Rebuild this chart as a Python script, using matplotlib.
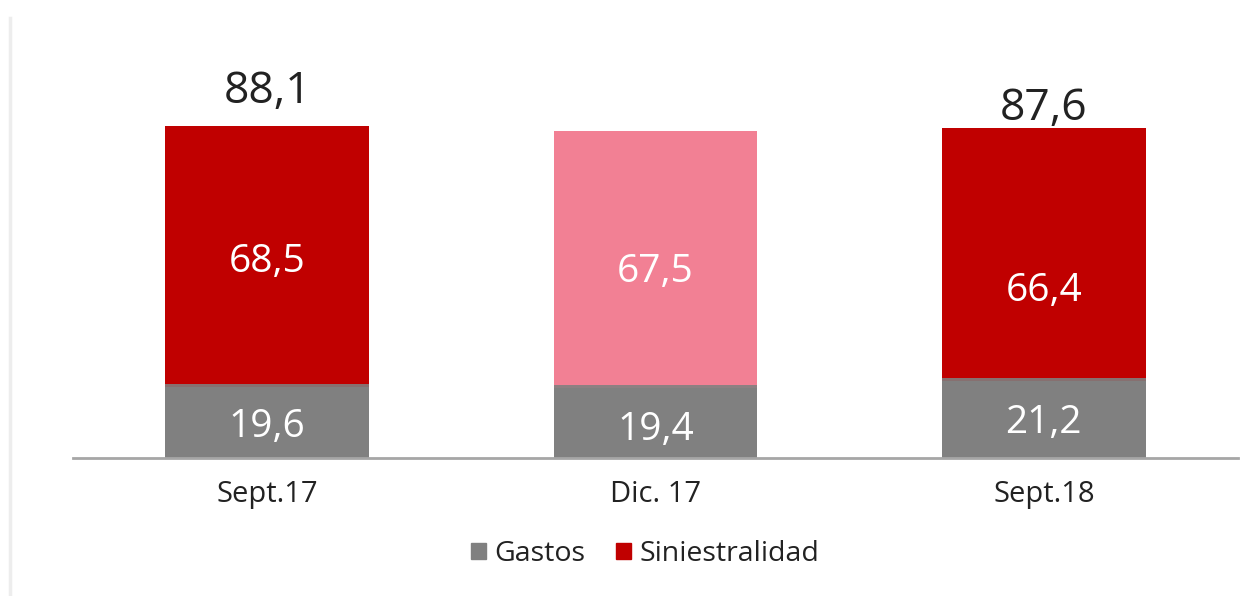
import matplotlib
matplotlib.use("Agg")
import matplotlib.pyplot as plt
from matplotlib.patches import Rectangle
from matplotlib.lines import Line2D
import matplotlib.patheffects as pe

plt.rcParams['font.family'] = ['Open Sans', 'DejaVu Sans']

categories = ["Sept.17", "Dic. 17", "Sept.18"]
gastos = [19.6, 19.4, 21.2]
siniestralidad = [68.5, 67.5, 66.4]
totals = [88.1, None, 87.6]

# small vertical nudges for the value labels (data units)
sin_label_shift = [-1.8, -3.8, -10.0]
gas_label_shift = [-1.6, -2.3, -1.4]
total_label_shift = [9.2, 0.0, 5.0]

GRAY = "#808080"
RED = "#C00000"
PINK = "#F28094"
TEXT = "#222222"

fig = plt.figure(figsize=(12.55, 5.96), dpi=100)
ax = fig.add_axes([73 / 1255, (596 - 458) / 596, (1238 - 73) / 1255, 458 / 596])

x = list(range(len(categories)))
width = 0.525
sin_colors = [RED, PINK, RED]

ax.bar(x, gastos, width=width, color=GRAY, zorder=3)
bars = ax.bar(x, siniestralidad, bottom=gastos, width=width, color=sin_colors, zorder=3)
# soft glow behind the upper segments
for b, c in zip(bars, sin_colors):
    b.set_path_effects([pe.SimplePatchShadow(offset=(0, -2), shadow_rgbFace=c, alpha=0.12), pe.Normal()])

for i in x:
    ax.text(i, gastos[i] / 2 + gas_label_shift[i], f"{gastos[i]:.1f}".replace(".", ","),
            ha="center", va="center", color="white", fontsize=28, zorder=4)
    ax.text(i, gastos[i] + siniestralidad[i] / 2 + sin_label_shift[i],
            f"{siniestralidad[i]:.1f}".replace(".", ","),
            ha="center", va="center", color="white", fontsize=28, zorder=4)
    if totals[i] is not None:
        ax.text(i, totals[i] + total_label_shift[i], f"{totals[i]:.1f}".replace(".", ","),
                ha="center", va="center", color=TEXT, fontsize=32, zorder=4)

ax.set_xlim(-0.5, 2.5)
ax.set_ylim(0, 458 / 3.768)
ax.set_xticks(x)
ax.set_xticklabels(categories, fontsize=21, color=TEXT)
ax.tick_params(axis="x", length=0, pad=16)
ax.set_yticks([])
for s in ["top", "right", "left"]:
    ax.spines[s].set_visible(False)
ax.spines["bottom"].set_color("#A6A6A6")
ax.spines["bottom"].set_linewidth(2)
ax.spines["bottom"].set_zorder(5)

# legend
handles = [Rectangle((0, 0), 1, 1, color=GRAY), Rectangle((0, 0), 1, 1, color=RED)]
fig.legend(handles, ["Gastos", "Siniestralidad"], loc="center", bbox_to_anchor=(645 / 1255, 1 - 554 / 596),
           ncol=2, frameon=False, fontsize=20.5, handlelength=0.53, handleheight=0.53,
           handletextpad=0.28, columnspacing=1.1, labelcolor=TEXT)

# faint frame edge on the left
fig.add_artist(Line2D([10 / 1255, 10 / 1255], [0, 1 - 18 / 596], transform=fig.transFigure,
                      color="#EDEDED", linewidth=2.5))

fig.savefig("out.png", dpi=100)
